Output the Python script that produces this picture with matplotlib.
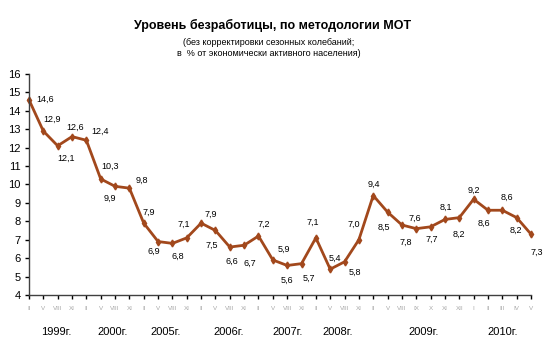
import matplotlib
matplotlib.use('Agg')
import matplotlib.pyplot as plt

plt.rcParams['font.family'] = ['Liberation Sans', 'DejaVu Sans']

# data: unemployment rate, %
months = ['II', 'V', 'VIII', 'XI'] * 6 + ['II', 'V', 'VIII', 'IX', 'X', 'XI', 'XII'] + ['I', 'II', 'III', 'IV', 'V']
values = [14.6, 12.9, 12.1, 12.6,
          12.4, 10.3, 9.9, 9.8,
          7.9, 6.9, 6.8, 7.1,
          7.9, 7.5, 6.6, 6.7,
          7.2, 5.9, 5.6, 5.7,
          7.1, 5.4, 5.8, 7.0,
          9.4, 8.5, 7.8, 7.6, 7.7, 8.1, 8.2,
          9.2, 8.6, 8.6, 8.2, 7.3]
years = ['1999г.', '2000г.', '2005г.', '2006г.', '2007г.', '2008г.', '2009г.', '2010г.']
year_pos = [1.9, 5.85, 9.55, 13.9, 18.0, 21.5, 27.5, 33.05]

# label offsets in pixels (dx, dy)
offsets = [(16, 0), (9, 12), (8, -13), (3, 9),
           (14, 9), (9, 13), (-5, -12), (12, 8),
           (5, 11), (-4, -10), (5, -13), (-3, 14),
           (10, 9), (-4, -15), (2, -14), (6, -18),
           (5, 12), (11, 11), (0, -15), (7, -15),
           (-3, 16), (5, 11), (10, -11), (-5, 15),
           (1, 11), (-4, -15), (4, -17), (-1, 10), (1, -12), (1, 12), (0, -17),
           (0, 9), (-4, -13), (5, 13), (-1, -13), (6, -18)]

line_color = '#A2481C'

fig = plt.figure(figsize=(5.52, 3.61), dpi=100)
ax = fig.add_axes([0.0525, 0.183, 0.9095, 0.612])

x = list(range(len(values)))
ax.plot(x, values, color=line_color, linewidth=2, marker='d', markersize=3.5,
        markerfacecolor=line_color, markeredgecolor=line_color, clip_on=False)

for xi, v, (dx, dy) in zip(x, values, offsets):
    ax.annotate(f'{v:.1f}'.replace('.', ','), (xi, v), xytext=(dx, dy),
                textcoords='offset pixels', ha='center', va='center', fontsize=6.5)

ax.set_xlim(0, len(values) - 1)
ax.set_ylim(4, 16)
ax.set_yticks(range(4, 17))
ax.set_xticks(x)
ax.set_xticklabels(months, fontsize=4.5, color='#A8A8A8')
ax.tick_params(axis='y', labelsize=8, length=3, width=1, pad=3)
ax.tick_params(axis='x', length=3, width=1, pad=5)
for s in ['top', 'right']:
    ax.spines[s].set_visible(False)
for s in ['left', 'bottom']:
    ax.spines[s].set_color('#404040')
    ax.spines[s].set_linewidth(1)

for yp, yl in zip(year_pos, years):
    ax.text(yp, -0.167, yl, transform=ax.get_xaxis_transform(), ha='center', va='center', fontsize=8)

fig.text(0.493, 0.93, 'Уровень безработицы, по методологии МОТ', ha='center', va='center',
         fontsize=9, fontweight='bold')
fig.text(0.487, 0.883, '(без корректировки сезонных колебаний;', ha='center', va='center', fontsize=6.5)
fig.text(0.487, 0.853, 'в  % от экономически активного населения)', ha='center', va='center', fontsize=6.5)

fig.savefig('out.png', dpi=100)
